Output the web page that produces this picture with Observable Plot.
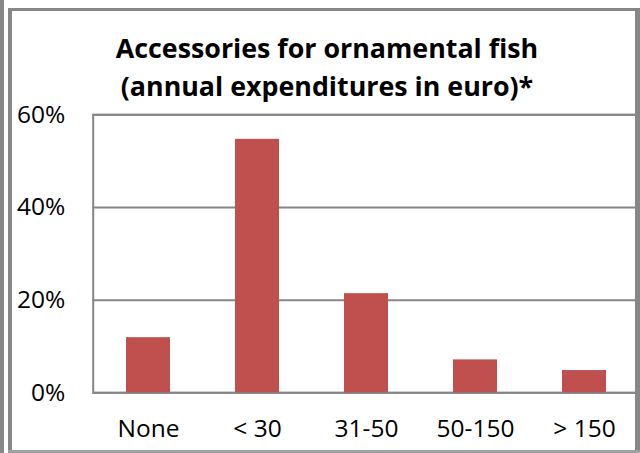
<!DOCTYPE html>
<html>
<head>
<meta charset="utf-8">
<script src="https://cdn.jsdelivr.net/npm/d3@7"></script>
<script src="https://cdn.jsdelivr.net/npm/@observablehq/plot@0.6"></script>
<style>
  html, body { margin: 0; padding: 0; background: #fff; }
  #wrap { position: relative; width: 640px; height: 453px; overflow: hidden; background: #fff; font-family: "Open Sans", sans-serif; }
  #title { position: absolute; left: 7px; top: 0; width: 640px; text-align: center; font-weight: 700; font-size: 26.8px; line-height: 37.7px; padding-top: 29px; color: #000; white-space: nowrap; z-index: 2; }
  #chart { position: absolute; left: 0; top: 70px; }
  .frame { position: absolute; background: #878787; z-index: 3; }
</style>
</head>
<body>
<div id="wrap">
  <div id="chart"></div>
  <div id="title"></div>
  <div class="frame" style="left:0;top:0;width:4px;height:453px;"></div>
  <div class="frame" style="left:8px;top:8px;width:4px;height:445px;"></div>
  <div class="frame" style="left:8px;top:8px;width:632px;height:3px;"></div>
  <div class="frame" style="left:635px;top:8px;width:5px;height:445px;"></div>
  <div class="frame" style="left:8px;top:450px;width:632px;height:3px;background:#a0a0a0;"></div>
</div>
<script>
const titleLines = ["Accessories for ornamental fish", "(annual expenditures in euro)*"];
const categories = ["None", "< 30", "31-50", "50-150", "> 150"];
const shares = [11.9, 54.7, 21.4, 7.1, 4.8];
const yTicks = [0, 20, 40, 60];

const data = categories.map((c, i) => ({category: c, share: shares[i]}));

document.getElementById("title").innerHTML = titleLines.join("<br>");

const gridColor = "#868686";
const fs = 24.5;
const chart = Plot.plot({
  width: 640,
  height: 383,
  marginLeft: 92.7,
  marginRight: 1.3,
  marginTop: 44.3,
  marginBottom: 60.7,
  style: {fontFamily: "Open Sans, sans-serif", fontSize: fs + "px", color: "#000", background: "transparent", overflow: "visible"},
  x: {domain: categories, paddingInner: 0.6, paddingOuter: 0.3, label: null, tickSize: 0, tickPadding: 28},
  y: {domain: [0, 60], ticks: yTicks, tickFormat: d => d + "%", label: null, tickSize: 0, tickPadding: 28},
  marks: [
    Plot.gridY(yTicks, {stroke: gridColor, strokeOpacity: 1, strokeWidth: 2}),
    Plot.frame({stroke: gridColor, strokeWidth: 2}),
    Plot.barY(data, {x: "category", y: "share", fill: "#C0504D"}),
    Plot.axisX({tickSize: 0, tickPadding: 27, fontSize: fs}),
    Plot.axisY(yTicks, {tickSize: 0, tickPadding: 28, tickFormat: d => d + "%", fontSize: fs})
  ]
});
document.getElementById("chart").appendChild(chart);
</script>
</body>
</html>
